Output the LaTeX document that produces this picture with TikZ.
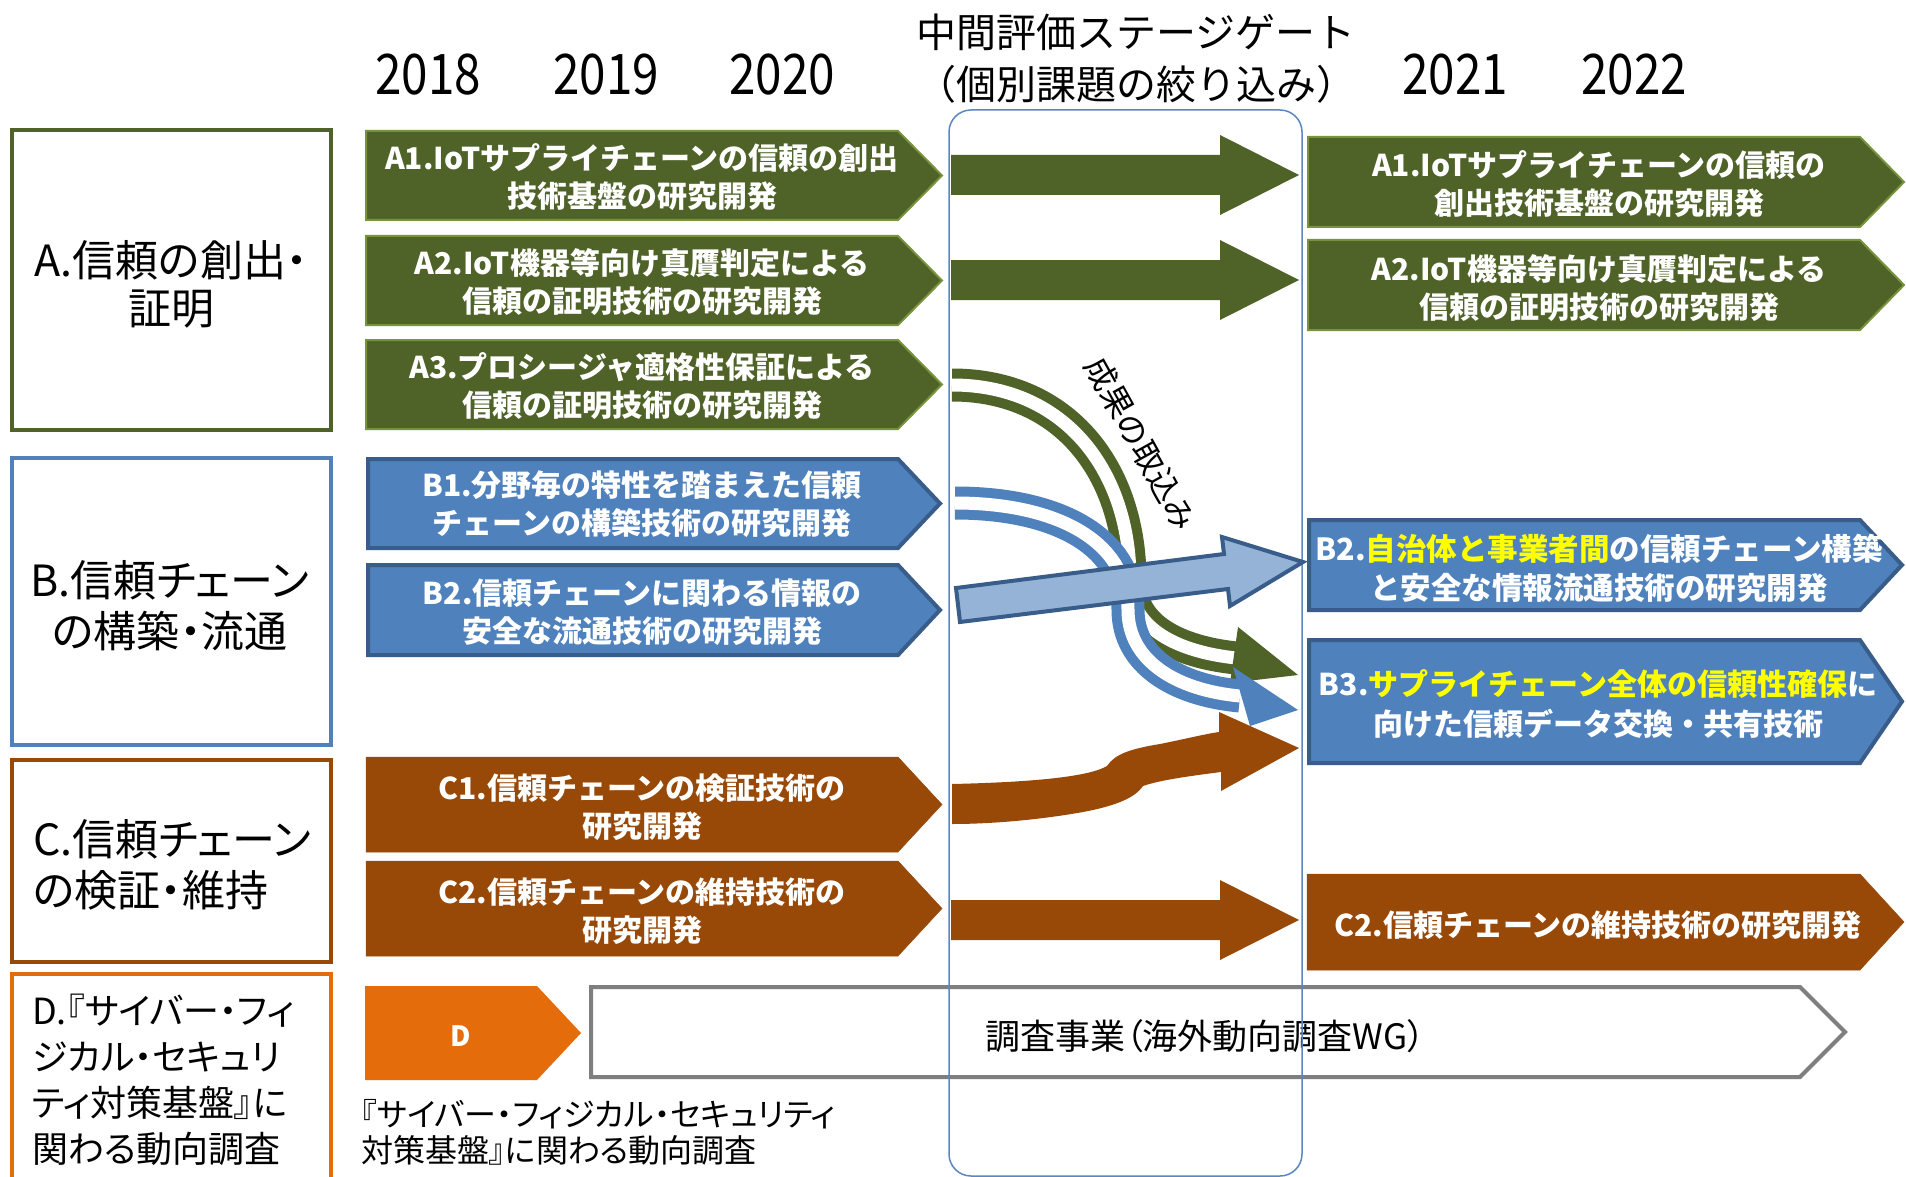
\documentclass[tikz,border=0pt]{standalone}
\usepackage{fontspec}
\usepackage{graphicx}
\setmainfont{Noto Sans CJK JP}
\newfontfamily\jpp{Noto Sans CJK JP}[RawFeature=+palt]
\definecolor{agreen}{HTML}{4F6228}
\definecolor{agreenb}{HTML}{77933C}
\definecolor{bblue}{HTML}{4F81BD}
\definecolor{bblueb}{HTML}{385D8A}
\definecolor{cbrown}{HTML}{984807}
\definecolor{dorange}{HTML}{E46C0A}
\definecolor{lblue}{HTML}{95B3D7}
\definecolor{gateblue}{HTML}{5B87C0}
\definecolor{grayb}{HTML}{7F7F7F}
\definecolor{ylw}{HTML}{FFFF00}
\newcommand{\pentarrow}[6]{%
  \filldraw[#1] (#2,#3) -- (#4,#3) -- (#5,{(#3+#6)/2}) -- (#4,#6) -- (#2,#6) -- cycle;}
\newcommand{\gatearrow}[2]{%
  \fill[#1] (951,{#2-20}) -- (1220,{#2-20}) -- (1220,{#2-40}) -- (1299,#2) -- (1220,{#2+40}) -- (1220,{#2+20}) -- (951,{#2+20}) -- cycle;}
\tikzset{
  garrow/.style={fill=agreen, draw=agreenb, line width=2pt},
  barrow/.style={fill=bblue, draw=bblueb, line width=4pt},
  carrow/.style={fill=cbrown, draw=cbrown, line width=0.5pt},
  catbox/.style={line width=4pt, fill=white},
  wtext/.style={text=white, font=\bfseries\fontsize{30}{38}\selectfont, align=center, inner sep=0pt},
  cattext/.style={font=\jpp\fontsize{43}{50}\selectfont, inner sep=0pt},
  yeartext/.style={font=\fontsize{56}{60}\selectfont, inner sep=0pt},
  headtext/.style={font=\fontsize{40}{46}\selectfont, inner sep=0pt},
  band/.style={line width=10pt, double=white, double distance=13pt}
}
\begin{document}
\begin{tikzpicture}[x=1pt,y=-1pt]
\useasboundingbox[fill=white] (0,0) rectangle (1906,1177);

% category boxes
\draw[catbox, draw=agreen] (12,130) rectangle (331,430);
\draw[catbox, draw=bblue] (12,458) rectangle (331,745);
\draw[catbox, draw=cbrown] (12,760) rectangle (331,962);
\draw[catbox, draw=dorange] (12,974) rectangle (331,1190);
\node[cattext, align=center, font=\jpp\fontsize{43}{48}\selectfont] (catA) at (171,284) {A.信頼の創出・\\証明};
\node[cattext, align=center, font=\jpp\fontsize{43}{51}\selectfont] (catB) at (170,606) {B.信頼チェーン\\の構築・流通};
\node[cattext, align=left, anchor=west, font=\jpp\fontsize{43}{51}\selectfont] (catC) at (33,865) {C.信頼チェーン\\の検証・維持};
\node[cattext, align=left, anchor=west, font=\jpp\fontsize{36}{46}\selectfont] (catD) at (32,1080) {D.『サイバー・フィ\\ジカル・セキュリ\\ティ対策基盤』に\\関わる動向調査};

% left arrows
\pentarrow{garrow}{366}{131}{898}{942}{220}
\pentarrow{garrow}{366}{236}{898}{942}{325}
\pentarrow{garrow}{366}{340}{898}{942}{429}
\pentarrow{barrow}{368}{459}{898}{940}{548}
\pentarrow{barrow}{368}{565}{898}{940}{655}
\pentarrow{carrow}{366}{757}{898}{942}{852}
\pentarrow{carrow}{366}{861}{898}{942}{956}
\node[wtext] (lA1) at (642,177) {A1.IoTサプライチェーンの信頼の創出\\技術基盤の研究開発};
\node[wtext] (lA2) at (642,282) {A2.IoT機器等向け真贋判定による\\信頼の証明技術の研究開発};
\node[wtext] (lA3) at (642,386) {A3.プロシージャ適格性保証による\\信頼の証明技術の研究開発};
\node[wtext] (lB1) at (642,504) {B1.分野毎の特性を踏まえた信頼\\チェーンの構築技術の研究開発};
\node[wtext] (lB2) at (642,612) {B2.信頼チェーンに関わる情報の\\安全な流通技術の研究開発};
\node[wtext] (lC1) at (642,807) {C1.信頼チェーンの検証技術の\\研究開発};
\node[wtext] (lC2) at (642,911) {C2.信頼チェーンの維持技術の\\研究開発};

% D row
\fill[dorange] (365,986) -- (537,986) -- (581,1033) -- (537,1080) -- (365,1080) -- cycle;
\node[wtext, font=\bfseries\fontsize{28}{32}\selectfont] (dlab) at (461,1036) {D};
\draw[line width=4pt, draw=grayb, fill=white] (591,987) -- (1800,987) -- (1845,1032) -- (1800,1077) -- (591,1077) -- cycle;
\node[inner sep=0pt, font=\jpp\fontsize{35}{40}\selectfont] (survey) at (1205,1036) {調査事業（海外動向調査WG）};
\node[inner sep=0pt, anchor=west, align=left, font=\jpp\fontsize{32}{36}\selectfont] (dnote) at (361,1132) {『サイバー・フィジカル・セキュリティ\\対策基盤』に関わる動向調査};

% stage gate
\draw[gateblue, line width=1.5pt, rounded corners=22pt] (949,110) rectangle (1302,1176);

% gate arrows
\gatearrow{agreen}{175}
\gatearrow{agreen}{280}
\gatearrow{cbrown}{920}
\fill[cbrown] (952,784) .. controls (1040,782) and (1090,776) .. (1107,766)
  .. controls (1115,754) and (1130,749) .. (1160,744)
  .. controls (1185,739) and (1205,734) .. (1219,732)
  -- (1219,712) -- (1299,748) -- (1221,791) -- (1221,772)
  .. controls (1190,776) and (1160,780) .. (1143,786)
  .. controls (1135,798) and (1115,806) .. (1083,812)
  .. controls (1050,818) and (1000,824) .. (952,824) -- cycle;
\draw[band, draw=agreen] (952,385) .. controls (1066,385) and (1130,472) .. (1130,580) .. controls (1130,630) and (1180,652) .. (1236,658);
\fill[agreen] (1238,627) -- (1298,675) -- (1230,683) -- cycle;
\draw[band, draw=bblue] (955,503) .. controls (1055,503) and (1128,540) .. (1128,610) .. controls (1128,660) and (1175,690) .. (1240,696);
\fill[bblue] (1233,667) -- (1298,710) -- (1250,726) -- cycle;
\filldraw[fill=lblue, draw=bblueb, line width=4pt] (956,588) -- (1224,554) -- (1222,537) -- (1303,562) -- (1230,606) -- (1228,589) -- (960,622) -- cycle;
\node[inner sep=0pt, rotate=-61, font=\fontsize{32}{36}\selectfont] (seika) at (1141,444) {成果の取込み};

% right arrows
\pentarrow{garrow}{1308}{137}{1860}{1904}{227}
\pentarrow{garrow}{1308}{240}{1860}{1904}{330}
\pentarrow{barrow}{1309}{520}{1860}{1902}{610}
\pentarrow{barrow}{1309}{640}{1860}{1902}{763}
\pentarrow{carrow}{1307}{874}{1860}{1904}{970}
\node[wtext] (rA1) at (1599,184) {A1.IoTサプライチェーンの信頼の\\創出技術基盤の研究開発};
\node[wtext] (rA2) at (1599,288) {A2.IoT機器等向け真贋判定による\\信頼の証明技術の研究開発};
\node[wtext, font=\bfseries\fontsize{30.5}{39}\selectfont] (rB2) at (1599,568) {B2.{\color{ylw}自治体と事業者間}の信頼チェーン構築\\と安全な情報流通技術の研究開発};
\node[wtext, font=\bfseries\fontsize{30}{40}\selectfont] (rB3) at (1598,704) {B3.{\color{ylw}サプライチェーン全体の信頼性確保}に\\向けた信頼データ交換・共有技術};
\node[wtext] (rC2) at (1598,925) {C2.信頼チェーンの維持技術の研究開発};

% headers
\node[yeartext] (y2018) at (428,75) {\scalebox{0.85}[1]{2018}};
\node[yeartext] (y2019) at (606,75) {\scalebox{0.85}[1]{2019}};
\node[yeartext] (y2020) at (782,75) {\scalebox{0.85}[1]{2020}};
\node[yeartext] (y2021) at (1455,75) {\scalebox{0.85}[1]{2021}};
\node[yeartext] (y2022) at (1634,75) {\scalebox{0.85}[1]{2022}};
\node[headtext] (gate1) at (1136,32) {中間評価ステージゲート};
\node[headtext] (gate2) at (1136,84) {（個別課題の絞り込み）};
\end{tikzpicture}
\end{document}
